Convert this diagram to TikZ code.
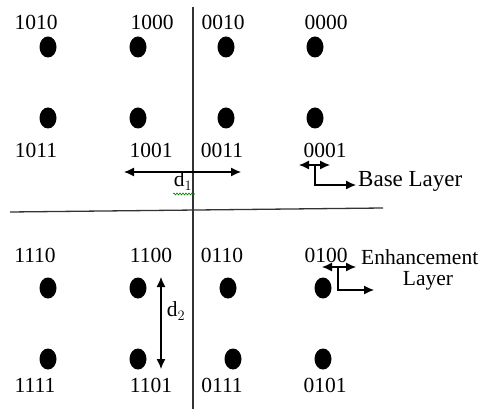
\documentclass[tikz,border=0pt]{standalone}
\usepackage{fontspec}
\setmainfont{Liberation Serif}
\usetikzlibrary{shapes.geometric,arrows.meta,decorations.pathmorphing}
\begin{document}
\begin{tikzpicture}[x=1pt,y=-1pt,
  dot/.style={ellipse,fill=black,minimum width=17pt,minimum height=21pt,inner sep=0pt},
  lbl/.style={inner sep=0pt,font=\fontsize{21.5}{24}\selectfont},
  axis/.style={line width=1.3pt,draw=black!80},
  arr/.style={line width=1.2pt,{Latex[length=10pt,width=9pt]}-{Latex[length=10pt,width=9pt]}},
  harr/.style={line width=1.2pt,-{Latex[length=10pt,width=9pt]}}]
\useasboundingbox (0,0) rectangle (485,409);
% axes
\coordinate (vt) at (193,7);
\coordinate (vb) at (193,409);
\coordinate (hl) at (10,212);
\coordinate (hr) at (383,208);
\draw[axis] (vt) -- (vb);
\draw[axis] (hl) -- (hr);
% row 1
\node[lbl] (l1010) at (36,22) {1010};
\node[lbl] (l1000) at (152,22) {1000};
\node[lbl] (l0010) at (223,22) {0010};
\node[lbl] (l0000) at (326,22) {0000};
\node[dot] (p1010) at (48,47) {};
\node[dot] (p1000) at (138,47) {};
\node[dot] (p0010) at (226,47) {};
\node[dot] (p0000) at (315,47) {};
% row 2
\node[dot] (p1011) at (48,118) {};
\node[dot] (p1001) at (138,118) {};
\node[dot] (p0011) at (226,118) {};
\node[dot] (p0001) at (315,118) {};
\node[lbl] (l1011) at (36,150) {1011};
\node[lbl] (l1001) at (151,150) {1001};
\node[lbl] (l0011) at (222,150) {0011};
\node[lbl] (l0001) at (325,150) {0001};
% row 3
\node[lbl] (l1110) at (35,255) {1110};
\node[lbl] (l1100) at (151,255) {1100};
\node[lbl] (l0110) at (222,255) {0110};
\node[lbl] (l0100) at (326,255) {0100};
\node[dot] (p1110) at (48,288) {};
\node[dot] (p1100) at (138,288) {};
\node[dot] (p0110) at (228,288) {};
\node[dot] (p0100) at (323,288) {};
% row 4
\node[dot] (p1111) at (48,359) {};
\node[dot] (p1101) at (138,359) {};
\node[dot] (p0111) at (233,359) {};
\node[dot] (p0101) at (323,359) {};
\node[lbl] (l1111) at (35,385) {1111};
\node[lbl] (l1101) at (151,385) {1101};
\node[lbl] (l0111) at (222,385) {0111};
\node[lbl] (l0101) at (325,385) {0101};
% d1
\coordinate (d1a) at (124,172);
\coordinate (d1b) at (241,172);
\draw[arr] (d1a) -- (d1b);
\node[lbl] (d1) at (183,181) {d$_1$};
\coordinate (sqa) at (173,194);
\coordinate (sqb) at (195,194);
\draw[green!50!black,line width=0.6pt,decorate,decoration={snake,amplitude=1pt,segment length=3pt}] (sqa) -- (sqb);
% d2
\coordinate (d2a) at (161,277);
\coordinate (d2b) at (161,369);
\draw[arr] (d2a) -- (d2b);
\node[lbl] (d2) at (176,311) {d$_2$};
% base layer
\coordinate (ba) at (299,165);
\coordinate (bb) at (330,165);
\coordinate (bc) at (315,165);
\coordinate (bd) at (315,185);
\coordinate (be) at (356,185);
\draw[arr] (ba) -- (bb);
\draw[harr] (bc) -- (bd) -- (be);
\node[lbl,anchor=west,font=\fontsize{23}{26}\selectfont] (base) at (358,181) {Base Layer};
% enhancement layer
\coordinate (ea) at (322,267);
\coordinate (eb) at (356,267);
\coordinate (ec) at (338,267);
\coordinate (ed) at (338,290);
\coordinate (ee) at (374,290);
\draw[arr] (ea) -- (eb);
\draw[harr] (ec) -- (ed) -- (ee);
\node[lbl,anchor=west] (enh) at (361,257) {Enhancement};
\node[lbl] (lay) at (428,281) {Layer};
\end{tikzpicture}
\end{document}
